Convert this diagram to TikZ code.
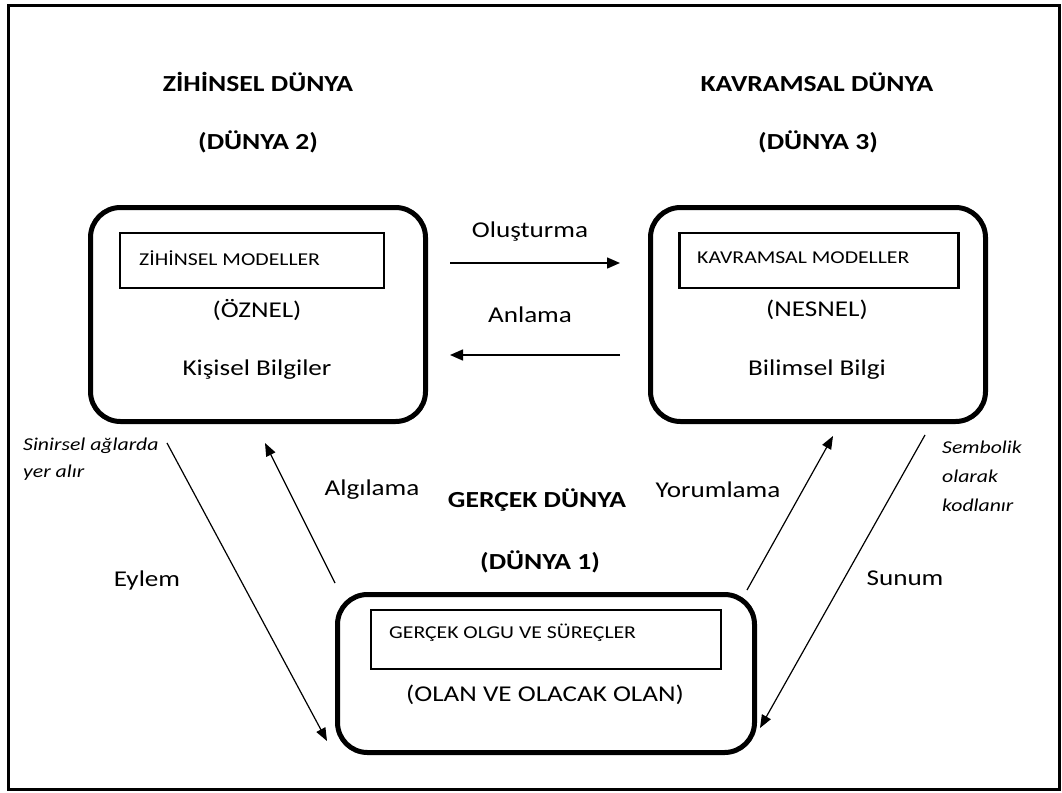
\documentclass[tikz,border=0pt]{standalone}
\usepackage{fontspec}
\setmainfont{Carlito}[FakeStretch=1.2]
\usetikzlibrary{arrows.meta}
\tikzset{
  bigbox/.style={draw, line width=5pt, rounded corners=30pt, inner sep=0pt},
  inbox/.style={draw, line width=2.5pt, inner sep=0pt},
  txt/.style={inner sep=0pt, font=\fontsize{22.6}{27}\selectfont},
  ttl/.style={inner sep=0pt, font=\fontsize{23}{27}\selectfont\bfseries},
  small/.style={inner sep=0pt, font=\fontsize{18.1}{22}\selectfont},
  note/.style={inner sep=0pt, align=left, font=\fontsize{18.1}{27}\selectfont\itshape},
  harr/.style={line width=1.5pt, -{Triangle[length=13pt,width=11pt]}},
  darr/.style={line width=1.2pt, -{Triangle[length=13pt,width=10pt]}}
}
\begin{document}
\begin{tikzpicture}[x=1pt,y=-1pt]
\useasboundingbox (0,0) rectangle (1062,792);
\node[draw, line width=3pt, minimum width=1051pt, minimum height=784pt, inner sep=0pt] (frame) at (534,397.5) {};
% boxes
\node[bigbox, minimum width=335pt, minimum height=214pt] (zbox) at (258,314.5) {};
\node[bigbox, minimum width=335pt, minimum height=214pt] (kbox) at (818,314.5) {};
\node[bigbox, minimum width=417pt, minimum height=158pt] (gbox) at (546,673.5) {};
\node[inbox, minimum width=264pt, minimum height=55pt] (zin) at (252,260.5) {};
\node[inbox, minimum width=279pt, minimum height=55pt] (kin) at (819,260.5) {};
\node[inbox, minimum width=350pt, minimum height=59pt] (gin) at (546,639.5) {};
\node[small, anchor=west] (zint) at (139,258) {ZİHİNSEL MODELLER};
\node[small, anchor=west] (kint) at (697,258) {KAVRAMSAL MODELLER};
\node[small, anchor=west] (gint) at (389,633) {GERÇEK OLGU VE SÜREÇLER};
% titles
\node[ttl] (t2a) at (258,82) {ZİHİNSEL DÜNYA};
\node[ttl] (t2b) at (258,142) {(DÜNYA 2)};
\node[ttl] (t3a) at (817,82) {KAVRAMSAL DÜNYA};
\node[ttl] (t3b) at (818,142) {(DÜNYA 3)};
\node[ttl] (t1a) at (537,500) {GERÇEK DÜNYA};
\node[ttl] (t1b) at (540,562) {(DÜNYA 1)};
% box texts
\node[txt] (oz) at (257,310) {(ÖZNEL)};
\node[txt] (kb) at (257,370) {Kişisel Bilgiler};
\node[txt] (ns) at (817,310) {(NESNEL)};
\node[txt] (bb) at (817,370) {Bilimsel Bilgi};
\node[txt] (olan) at (545,695) {(OLAN VE OLACAK OLAN)};
% arrow labels
\node[txt] (olus) at (530,232) {Oluşturma};
\node[txt] (anl) at (530,315) {Anlama};
\node[txt] (eyl) at (147,580) {Eylem};
\node[txt] (alg) at (372,490) {Algılama};
\node[txt] (yor) at (718,490) {Yorumlama};
\node[txt] (sun) at (905,578) {Sunum};
\node[note, anchor=west] (sin) at (23,459.5) {Sinirsel ağlarda\\yer alır};
\node[note, anchor=west, font=\fontsize{18.1}{29}\selectfont\itshape] (sem) at (942,476) {Sembolik\\olarak\\kodlanır};
% coordinates
\coordinate (a1s) at (450,263);
\coordinate (a1e) at (620,263);
\coordinate (a2s) at (620,355);
\coordinate (a2e) at (450,355);
\coordinate (eys) at (167,443);
\coordinate (eye) at (327,741);
\coordinate (als) at (335,583);
\coordinate (ale) at (265,443);
\coordinate (yos) at (747,590);
\coordinate (yoe) at (833,436);
\coordinate (sus) at (925,435);
\coordinate (sue) at (760,728);
% arrows
\draw[harr] (a1s) -- (a1e);
\draw[harr] (a2s) -- (a2e);
\draw[darr] (eys) -- (eye);
\draw[darr] (als) -- (ale);
\draw[darr] (yos) -- (yoe);
\draw[darr] (sus) -- (sue);
\end{tikzpicture}
\end{document}
